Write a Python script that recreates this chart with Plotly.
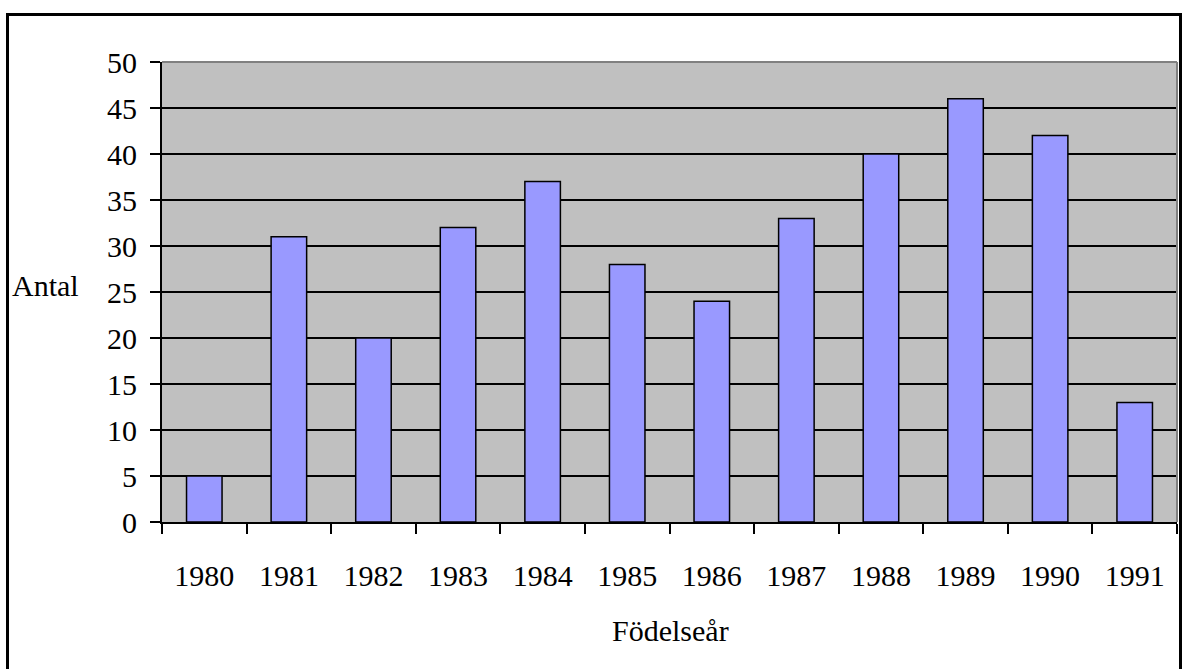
import plotly.graph_objects as go

# Antal personer per födelseår
years = ["1980", "1981", "1982", "1983", "1984", "1985",
         "1986", "1987", "1988", "1989", "1990", "1991"]
counts = [5, 31, 20, 32, 37, 28, 24, 33, 40, 46, 42, 13]
y_ticks = [0, 5, 10, 15, 20, 25, 30, 35, 40, 45, 50]

W, H = 1182, 669
L, R, T, B = 162, 5, 62, 147
pw, ph = W - L - R, H - T - B

FONT = "Liberation Serif, Times New Roman, serif"

fig = go.Figure(go.Bar(
    x=years, y=counts,
    marker=dict(color="#9999FF", line=dict(color="black", width=1.5)),
    width=0.42,
))

def px_x(v):
    return (v - L) / pw

def px_y(v):
    return (H - B - v) / ph

fig.update_layout(
    width=W, height=H,
    margin=dict(l=L, r=R, t=T, b=B, pad=0),
    paper_bgcolor="white",
    plot_bgcolor="#C0C0C0",
    font=dict(family=FONT, size=30, color="black"),
    showlegend=False,
    xaxis=dict(
        type="category", range=[-0.5, 11.5],
        showgrid=False, showline=True, linecolor="black", linewidth=2,
        ticks="outside", tickson="boundaries", ticklen=10, tickwidth=1.5,
        tickcolor="black", ticklabelstandoff=26,
        tickfont=dict(family=FONT, size=30),
    ),
    yaxis=dict(
        range=[0, 50], tickvals=y_ticks,
        showgrid=True, gridcolor="black", gridwidth=1.5,
        showline=True, linecolor="black", linewidth=2,
        ticks="outside", ticklen=10, tickwidth=1.5, tickcolor="black",
        ticklabelstandoff=7, zeroline=False,
        tickfont=dict(family=FONT, size=30),
    ),
    shapes=[
        # grå ram upptill och till höger om diagramytan
        dict(type="line", xref="paper", yref="paper", x0=0, x1=1, y0=1, y1=1,
             line=dict(color="#808080", width=2)),
        dict(type="line", xref="paper", yref="paper", x0=1, x1=1, y0=0, y1=1,
             line=dict(color="#808080", width=2)),
        # yttre ram runt hela diagrammet
        dict(type="rect", xref="paper", yref="paper",
             x0=px_x(7.5), x1=px_x(1180.5), y0=px_y(680), y1=px_y(14.5),
             line=dict(color="black", width=3), fillcolor="rgba(0,0,0,0)",
             layer="above"),
    ],
    annotations=[
        dict(text="Antal", xref="paper", yref="paper",
             x=px_x(45), y=px_y(285), showarrow=False,
             xanchor="center", yanchor="middle", font=dict(size=30)),
        dict(text="Födelseår", xref="paper", yref="paper",
             x=px_x(670), y=px_y(630), showarrow=False,
             xanchor="center", yanchor="middle", font=dict(size=30)),
    ],
)

fig.write_html("out.html")
